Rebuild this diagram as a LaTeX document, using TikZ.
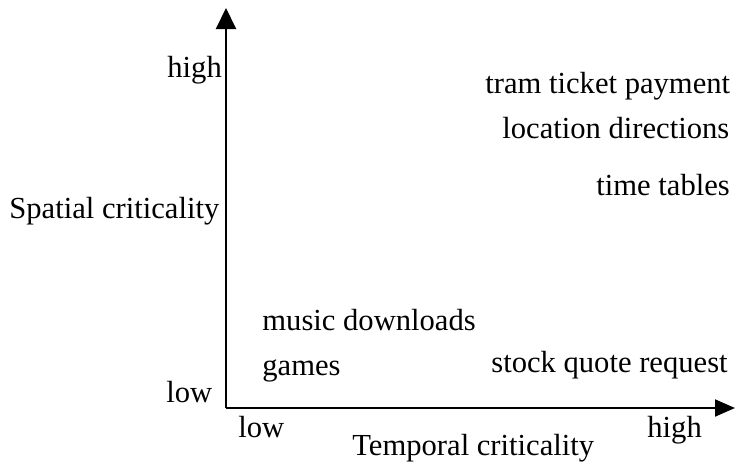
\documentclass[tikz,border=0pt]{standalone}
\usepackage{fontspec}
\setmainfont{Liberation Serif}
\usetikzlibrary{arrows.meta}

\begin{document}
\begin{tikzpicture}[x=0.5pt,y=-0.5pt,
  lbl/.style={anchor=base west,inner sep=0pt,font=\fontsize{15.3}{18}\selectfont}]

\useasboundingbox (0,0) rectangle (735,467);

\coordinate (origin) at (226,408);
\coordinate (ytop) at (226,8);
\coordinate (xend) at (735,408);

\draw[line width=1pt,-{Triangle[length=10.5pt,width=10pt]}] (origin) -- (ytop);
\draw[line width=1pt,-{Triangle[length=10pt,width=8.5pt]}] (origin) -- (xend);

% axis labels
\node[lbl] (yhigh) at (167,77) {high};
\node[lbl] (ylabel) at (9,218) {Spatial criticality};
\node[lbl] (ylow) at (166,402) {low};
\node[lbl] (xlow) at (238,437) {low};
\node[lbl] (xhigh) at (647,437) {high};
\node[lbl] (xlabel) at (352,455) {Temporal criticality};

% services
\node[lbl] (tram) at (485,93) {tram ticket payment};
\node[lbl] (location) at (502,138) {location directions};
\node[lbl] (timetables) at (596,195) {time tables};
\node[lbl] (music) at (262,330) {music downloads};
\node[lbl] (games) at (262,375) {games};
\node[lbl] (stock) at (491,372) {stock quote request};

\end{tikzpicture}
\end{document}
